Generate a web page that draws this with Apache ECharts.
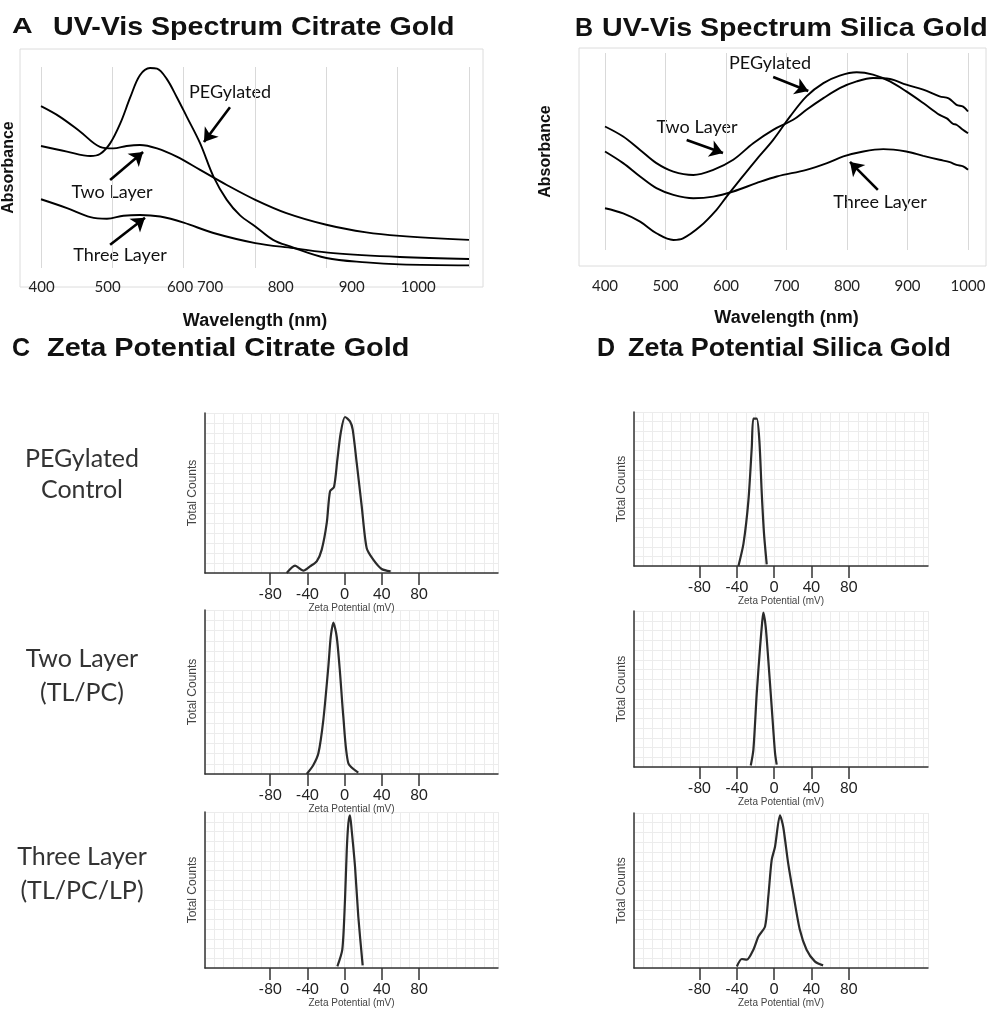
<!DOCTYPE html>
<html><head><meta charset="utf-8">
<script src="https://cdn.jsdelivr.net/npm/echarts@6/dist/echarts.min.js"></script>
<style>html,body{margin:0;padding:0;background:#fff}#c{width:993px;height:1012px}</style>
</head><body><div id="c"></div>
<script>
// ---------- Panel A: UV-Vis citrate gold (wavelength nm, absorbance a.u.) ----------
const citratePEG = [[400,0.607],[441,0.579],[478,0.557],[493,0.567],[509,0.62],[525,0.719],[541,0.851],[556,0.959],[572,0.995],[583,0.992],[598,0.942],[614,0.851],[630,0.752],[651,0.62],[672,0.455],[693,0.339],[714,0.262],[738,0.207],[766,0.14],[793,0.107],[850,0.05],[913,0.028],[966,0.018],[1075,0.013]];
const citrateTwo = [[400,0.805],[430,0.752],[462,0.678],[493,0.603],[514,0.595],[535,0.607],[556,0.612],[583,0.595],[614,0.554],[651,0.488],[693,0.413],[738,0.339],[787,0.273],[850,0.215],[913,0.177],[966,0.16],[1075,0.14]];
const citrateThree = [[400,0.342],[441,0.298],[478,0.253],[504,0.245],[530,0.26],[556,0.264],[588,0.256],[625,0.226],[672,0.174],[738,0.124],[798,0.099],[861,0.074],[966,0.055],[1075,0.045]];
const uvLabelsA = ['400','500','600 700','800','900','1000'];
const uvLabelAtA = [401,505,643,778,890,995];

// ---------- Panel B: UV-Vis silica gold ----------
const silicaPEG = [[400,0.212],[430,0.186],[458,0.144],[485,0.085],[513,0.051],[529,0.059],[557,0.119],[584,0.203],[601,0.271],[623,0.356],[650,0.458],[678,0.559],[706,0.678],[733,0.78],[761,0.847],[788,0.885],[816,0.902],[843,0.89],[871,0.856],[898,0.805],[926,0.746],[953,0.686],[965,0.668],[975,0.641],[981,0.636],[991,0.612],[1000,0.593]];
const silicaTwo = [[400,0.627],[430,0.576],[458,0.508],[485,0.441],[513,0.398],[546,0.381],[579,0.407],[612,0.458],[645,0.542],[678,0.61],[711,0.661],[733,0.712],[761,0.771],[788,0.822],[816,0.856],[843,0.873],[871,0.868],[898,0.839],[926,0.814],[953,0.78],[968,0.77],[981,0.737],[992,0.728],[1000,0.703]];
const silicaThree = [[400,0.5],[430,0.441],[458,0.373],[485,0.314],[513,0.28],[546,0.263],[579,0.271],[612,0.297],[650,0.339],[684,0.373],[733,0.407],[767,0.441],[794,0.475],[827,0.5],[860,0.512],[898,0.5],[926,0.478],[953,0.458],[970,0.446],[981,0.432],[992,0.425],[1000,0.407]];
const uvTicksB = [400,500,600,700,800,900,1000];

// ---------- Panels C / D: zeta potential (mV, normalised total counts) ----------
const zetaCitPEG = [[-62.1,0],[-53.2,0.046],[-44.2,0.015],[-37.1,0.042],[-29.9,0.073],[-24.5,0.146],[-19.1,0.313],[-15.6,0.51],[-11.3,0.538],[-7.7,0.708],[-4.1,0.875],[0.5,0.975],[5.9,0.948],[8.8,0.896],[13.1,0.688],[18.5,0.417],[23.8,0.156],[30.9,0.083],[39.9,0.025],[49.6,0.01]];
const zetaCitTwo = [[-40.6,0],[-33.5,0.055],[-28.1,0.126],[-22.8,0.329],[-17.4,0.654],[-14.8,0.837],[-12.0,0.923],[-8.4,0.837],[-4.8,0.614],[-1.3,0.35],[4.1,0.065],[14.8,0.008]];
const zetaCitThree = [[-7.7,0.01],[-2.4,0.117],[0.5,0.436],[2.4,0.755],[4.1,0.926],[5.9,0.979],[7.7,0.883],[11.3,0.649],[14.8,0.33],[19.5,0.017]];
const zetaSilPEG = [[-38.1,0],[-32.7,0.145],[-27.4,0.426],[-23.8,0.773],[-22.1,0.957],[-18.5,0.957],[-15.7,0.816],[-13.1,0.47],[-10.7,0.21],[-7.8,0.011]];
const zetaSilTwo = [[-24.9,0.01],[-22.1,0.11],[-18.5,0.47],[-14.9,0.77],[-12.5,0.94],[-11.4,0.99],[-8.9,0.9],[-6.1,0.685],[-2.5,0.387],[1.1,0.09],[2.9,0.015]];
const zetaSilThree = [[-39.8,0.01],[-34.5,0.058],[-29.1,0.054],[-22.1,0.118],[-16.7,0.203],[-9.6,0.268],[-6.1,0.46],[-2.5,0.696],[1.1,0.782],[6.4,0.985],[9.9,0.91],[15.2,0.675],[20.6,0.482],[27.7,0.246],[34.9,0.118],[43.7,0.043],[52.6,0.017]];
const zetaTicks = [-80,-40,0,40,80];
const rowLabels = ['PEGylated\nControl','Two Layer\n(TL/PC)','Three Layer\n(TL/PC/LP)'];
const seriesNames = ['PEGylated','Two Layer','Three Layer'];

// ---------- layout ----------
const chart = echarts.init(document.getElementById('c'), null, {renderer:'canvas'});
const INK = '#111';
const grids = [
  {left:41, top:67, width:428, height:201},
  {left:605, top:53, width:363, height:197}
];
const zetaGrids = [
  {left:205, top:413, width:293, height:160},
  {left:205, top:610, width:293, height:164},
  {left:205, top:812, width:293, height:156},
  {left:634, top:412, width:294, height:154},
  {left:634, top:611, width:294, height:156},
  {left:634, top:813, width:294, height:155}
];
zetaGrids.forEach(g => grids.push(g));

const xAxes = [], yAxes = [], series = [];
const hidden = {axisLine:{show:false}, axisTick:{show:false}, axisLabel:{show:false}};
const nameFont = {fontFamily:'Liberation Sans', fontWeight:'bold', color:INK};

// Panel A axes
xAxes.push(Object.assign({type:'value', gridIndex:0, min:0, max:6, interval:1, position:'bottom',
  splitLine:{show:true, lineStyle:{color:'#d9d9d9', width:1}}}, hidden));
xAxes.push({type:'value', gridIndex:0, min:400, max:1075, position:'bottom',
  axisLine:{show:false, onZero:false}, axisTick:{show:false}, splitLine:{show:false},
  axisLabel:{show:true, customValues:uvLabelAtA, margin:12, color:'#222', fontFamily:'Lato', fontSize:15,
    formatter:(v)=>uvLabelsA[uvLabelAtA.indexOf(v)]},
  name:'Wavelength (nm)', nameLocation:'middle', nameGap:44, nameTextStyle:Object.assign({fontSize:18}, nameFont)});
yAxes.push({type:'value', gridIndex:0, min:0, max:1, axisLine:{show:false, onZero:false}, axisTick:{show:false},
  axisLabel:{show:false}, splitLine:{show:false},
  name:'Absorbance', nameLocation:'middle', nameGap:24, nameTextStyle:Object.assign({fontSize:16}, nameFont)});

// Panel B axes
xAxes.push({type:'value', gridIndex:1, min:400, max:1000, interval:100, position:'bottom',
  axisLine:{show:false, onZero:false}, axisTick:{show:false},
  splitLine:{show:true, lineStyle:{color:'#d9d9d9', width:1}},
  axisLabel:{show:true, margin:29, color:'#222', fontFamily:'Lato', fontSize:15,
    formatter:(v)=>String(uvTicksB[uvTicksB.indexOf(v)])},
  name:'Wavelength (nm)', nameLocation:'middle', nameGap:59, nameTextStyle:Object.assign({fontSize:18}, nameFont)});
yAxes.push({type:'value', gridIndex:1, min:0, max:1, axisLine:{show:false, onZero:false}, axisTick:{show:false},
  axisLabel:{show:false}, splitLine:{show:false},
  name:'Absorbance', nameLocation:'middle', nameGap:51, nameTextStyle:Object.assign({fontSize:16}, nameFont)});

function uvSeries(name, data, xi, yi, arrows){
  const s = {type:'line', name, data, xAxisIndex:xi, yAxisIndex:yi, showSymbol:false, smooth:0.35,
    lineStyle:{color:'#000', width:1.9}, itemStyle:{color:'#000'}, silent:true, z:3};
  if (arrows) s.markLine = {silent:true, symbol:['none','arrow'], symbolSize:13,
    lineStyle:{color:'#000', width:2.6, type:'solid'}, itemStyle:{color:'#000'},
    label:{show:false}, animation:false, emphasis:{disabled:true},
    data:arrows.map(a=>[{coord:a[0], symbol:'none'},{coord:a[1], symbol:'arrow', symbolSize:13}])};
  return s;
}
series.push(uvSeries(seriesNames[0], citratePEG, 1, 0, [[[698,0.80],[657,0.627]],[[509,0.438],[561,0.577]],[[509,0.116],[564,0.25]]]));
series.push(uvSeries(seriesNames[1], citrateTwo, 1, 0));
series.push(uvSeries(seriesNames[2], citrateThree, 1, 0));
series.push(uvSeries(seriesNames[0], silicaPEG, 2, 1, [[[678,0.878],[736,0.807]],[[535,0.558],[595,0.492]],[[851,0.305],[805,0.447]]]));
series.push(uvSeries(seriesNames[1], silicaTwo, 2, 1));
series.push(uvSeries(seriesNames[2], silicaThree, 2, 1));

// Zeta panels
const zetaData = [zetaCitPEG, zetaCitTwo, zetaCitThree, zetaSilPEG, zetaSilTwo, zetaSilThree];
zetaData.forEach((d, i) => {
  const gi = 2 + i;
  xAxes.push(Object.assign({type:'value', gridIndex:gi, min:-150, max:165, interval:10, position:'bottom',
    splitLine:{show:true, lineStyle:{color:'#ececec', width:1}}}, hidden));
  const mainIdx = xAxes.length;
  xAxes.push({type:'value', gridIndex:gi, min:-150, max:165, position:'bottom',
    axisLine:{show:true, onZero:false, lineStyle:{color:'#333', width:1.5}},
    axisTick:{show:true, customValues:zetaTicks, length:12, lineStyle:{color:'#333', width:1.5}},
    axisLabel:{show:true, customValues:zetaTicks, margin:14, color:'#222', fontFamily:'Lato', fontSize:15},
    splitLine:{show:false},
    name:'Zeta Potential (mV)', nameLocation:'middle', nameGap:29,
    nameTextStyle:{fontFamily:'Liberation Sans', fontSize:10, color:'#444'}});
  const yi = yAxes.length;
  yAxes.push({type:'value', gridIndex:gi, min:0, max:1, interval:0.0625,
    axisLine:{show:true, onZero:false, lineStyle:{color:'#333', width:1.5}},
    axisTick:{show:false}, axisLabel:{show:false},
    splitLine:{show:true, lineStyle:{color:'#ececec', width:1}},
    name:'Total Counts', nameLocation:'middle', nameGap:6,
    nameTextStyle:{fontFamily:'Liberation Sans', fontSize:12, color:'#444'}});
  series.push({type:'line', name:seriesNames[i%3], data:d, xAxisIndex:mainIdx, yAxisIndex:yi,
    showSymbol:false, smooth:0.25, silent:true, lineStyle:{color:'#2b2b2b', width:2.2}, z:3});
});

// ---------- text / frames ----------
function txt(text, x, y, font, opts, sx){
  return {type:'text', x, y, scaleX:sx||1, silent:true,
    style:Object.assign({text, font, fill:INK, align:'left', verticalAlign:'middle'}, (opts||{}))};
}
const graphics = [
  {type:'rect', silent:true, shape:{x:20, y:49, width:463, height:238}, style:{fill:'none', stroke:'#dcdcdc', lineWidth:1}, z:-1},
  {type:'rect', silent:true, shape:{x:579, y:48, width:407, height:218}, style:{fill:'none', stroke:'#dcdcdc', lineWidth:1}, z:-1},
  txt('A', 12, 27, 'bold 22px "Liberation Sans"', {verticalAlign:'middle'}, 1.3),
  txt('UV-Vis Spectrum Citrate Gold', 53, 28, 'bold 26px "Liberation Sans"', null, 1.10),
  txt('B', 575, 29, 'bold 25px "Liberation Sans"'),
  txt('UV-Vis Spectrum Silica Gold', 602, 29, 'bold 26px "Liberation Sans"', null, 1.10),
  txt('C', 12, 349, 'bold 25px "Liberation Sans"'),
  txt('Zeta Potential Citrate Gold', 47, 349, 'bold 26px "Liberation Sans"', null, 1.11),
  txt('D', 597, 349, 'bold 25px "Liberation Sans"'),
  txt('Zeta Potential Silica Gold', 628, 349, 'bold 26px "Liberation Sans"', null, 1.035),
  // panel annotations
  txt('PEGylated', 230, 92, '18px Lato', {align:'center'}),
  txt('Two Layer', 112, 192, '18px Lato', {align:'center'}),
  txt('Three Layer', 120, 255, '18px Lato', {align:'center'}),
  txt('PEGylated', 770, 63, '18px Lato', {align:'center'}),
  txt('Two Layer', 697, 127, '18px Lato', {align:'center'}),
  txt('Three Layer', 880, 202, '18px Lato', {align:'center'}),
  // row labels
  txt(rowLabels[0], 82, 474, '25px Lato', {align:'center', fill:'#333', lineHeight:31}),
  txt(rowLabels[1], 82, 676, '25px Lato', {align:'center', fill:'#333', lineHeight:34}),
  txt(rowLabels[2], 82, 874, '25px Lato', {align:'center', fill:'#333', lineHeight:34})
];

chart.setOption({
  animation:false,
  backgroundColor:'#fff',
  grid:grids,
  xAxis:xAxes,
  yAxis:yAxes,
  series,
  graphic:graphics
});
</script></body></html>
